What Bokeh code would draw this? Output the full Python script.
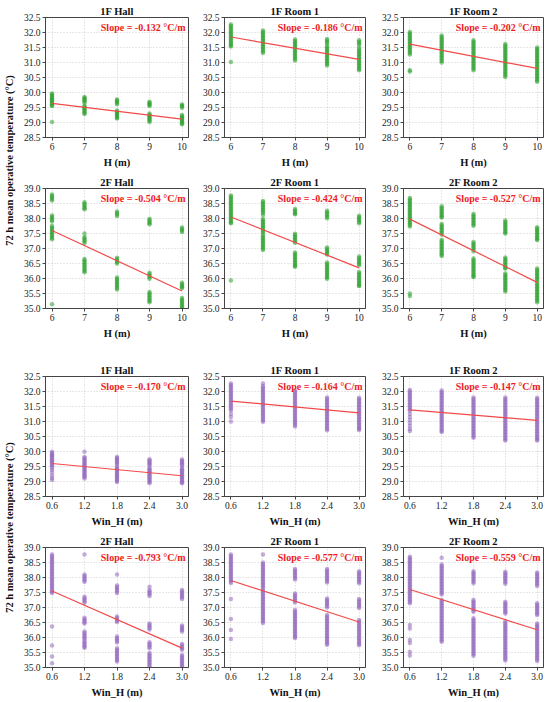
import math
from bokeh.plotting import figure
from bokeh.layouts import column, row
from bokeh.models import FixedTicker, PrintfTickFormatter, Label, Spacer, Range1d
from bokeh.embed import file_html
from bokeh.resources import INLINE

FONT = "Liberation Serif"

# ---------------- data ----------------
titles = ["1F Hall", "1F Room 1", "1F Room 2", "2F Hall", "2F Room 1", "2F Room 2"]
y_label = "72 h mean operative temperature (°C)"

h_values = [6, 7, 8, 9, 10]
h_tick_labels = ["6", "7", "8", "9", "10"]
win_values = [0.6, 1.2, 1.8, 2.4, 3.0]
win_tick_labels = ["0.6", "1.2", "1.8", "2.4", "3.0"]
y_ticks_1f = [28.5, 29.0, 29.5, 30.0, 30.5, 31.0, 31.5, 32.0, 32.5]
y_ticks_2f = [35.0, 35.5, 36.0, 36.5, 37.0, 37.5, 38.0, 38.5, 39.0]

# regression slopes (°C/m) and fitted value at the first x
h_slopes = [-0.132, -0.186, -0.202, -0.504, -0.424, -0.527]
h_fit_start = [29.64, 31.85, 31.61, 37.60, 38.05, 37.98]
win_slopes = [-0.170, -0.164, -0.147, -0.793, -0.577, -0.559]
win_fit_start = [29.60, 31.68, 31.39, 37.55, 37.90, 37.60]

# temperatures per x value (H = 6..10 m)
h_1f_hall = [
    [29.97, 29.93, 29.89, 29.85, 29.81, 29.77, 29.73, 29.69, 29.65, 29.61, 29.57, 29.55, 29.02],
    [29.85, 29.82, 29.78, 29.74, 29.70, 29.66, 29.56, 29.52, 29.48, 29.44, 29.40, 29.36, 29.32, 29.28],
    [29.77, 29.73, 29.69, 29.65, 29.61, 29.40, 29.36, 29.32, 29.28, 29.24, 29.20, 29.16, 29.13],
    [29.69, 29.66, 29.62, 29.58, 29.55, 29.30, 29.26, 29.22, 29.18, 29.14, 29.10, 29.06, 29.02],
    [29.60, 29.57, 29.53, 29.49, 29.25, 29.21, 29.17, 29.13, 29.09, 29.05, 29.01, 28.97, 28.94],
]
h_1f_room1 = [
    [32.27, 32.22, 32.17, 32.12, 32.07, 32.02, 31.97, 31.92, 31.87, 31.82, 31.77, 31.72, 31.67, 31.62, 31.57, 31.53, 31.02],
    [32.07, 32.02, 31.97, 31.92, 31.87, 31.82, 31.77, 31.72, 31.67, 31.62, 31.57, 31.52, 31.47, 31.42, 31.37, 31.32],
    [31.77, 31.72, 31.67, 31.62, 31.57, 31.52, 31.47, 31.42, 31.37, 31.32, 31.27, 31.22, 31.17, 31.12, 31.07],
    [31.78, 31.73, 31.68, 31.63, 31.55, 31.50, 31.45, 31.40, 31.35, 31.30, 31.25, 31.20, 31.15, 31.10, 31.05, 31.00, 30.95, 30.90],
    [31.74, 31.69, 31.64, 31.59, 31.50, 31.43, 31.38, 31.33, 31.28, 31.23, 31.18, 31.13, 31.08, 31.03, 30.98, 30.93, 30.88, 30.83, 30.78, 30.74],
]
h_1f_room2 = [
    [32.02, 31.97, 31.92, 31.87, 31.82, 31.77, 31.72, 31.67, 31.62, 31.57, 31.52, 31.47, 31.42, 31.37, 31.32, 31.27, 30.74, 30.70],
    [31.90, 31.85, 31.80, 31.75, 31.70, 31.65, 31.60, 31.55, 31.50, 31.45, 31.40, 31.35, 31.30, 31.25, 31.20, 31.15, 31.10, 31.05, 31.00],
    [31.74, 31.69, 31.64, 31.59, 31.54, 31.49, 31.44, 31.39, 31.34, 31.29, 31.24, 31.19, 31.14, 31.09, 31.04, 30.99, 30.94, 30.89, 30.84, 30.79, 30.74],
    [31.62, 31.57, 31.52, 31.47, 31.42, 31.37, 31.32, 31.27, 31.22, 31.17, 31.12, 31.07, 31.02, 30.97, 30.92, 30.87, 30.82, 30.77, 30.72, 30.67, 30.62, 30.57, 30.52],
    [31.50, 31.45, 31.40, 31.35, 31.30, 31.25, 31.20, 31.15, 31.10, 31.05, 31.00, 30.95, 30.90, 30.85, 30.80, 30.75, 30.70, 30.65, 30.60, 30.55, 30.50, 30.45, 30.40, 30.36],
]
h_2f_hall = [
    [38.80, 38.75, 38.70, 38.65, 38.60, 38.10, 38.05, 38.00, 37.95, 37.90, 37.75, 37.70, 37.65, 37.60, 37.55, 37.50, 37.45, 37.40, 37.35, 37.31, 35.14],
    [38.54, 38.49, 38.44, 38.39, 38.34, 38.31, 37.50, 37.38, 37.33, 37.28, 37.23, 37.18, 36.65, 36.60, 36.55, 36.50, 36.45, 36.40, 36.35, 36.30, 36.25, 36.21],
    [38.23, 38.18, 38.13, 38.08, 36.69, 36.64, 36.59, 36.54, 36.50, 36.03, 35.98, 35.93, 35.88, 35.83, 35.78, 35.73, 35.68, 35.63],
    [37.99, 37.94, 37.89, 37.84, 37.81, 36.19, 36.14, 36.09, 36.04, 35.99, 35.55, 35.50, 35.45, 35.40, 35.35, 35.30, 35.25, 35.21],
    [37.70, 37.65, 37.60, 37.55, 35.86, 35.81, 35.76, 35.71, 35.68, 35.35, 35.30, 35.25, 35.20, 35.15, 35.10, 35.05, 35.01],
]
h_2f_room1 = [
    [38.77, 38.72, 38.67, 38.62, 38.57, 38.52, 38.47, 38.42, 38.37, 38.32, 38.27, 38.22, 38.17, 38.12, 38.07, 38.02, 37.97, 37.92, 37.87, 37.84, 35.93],
    [38.58, 38.53, 38.48, 38.43, 38.38, 38.33, 38.28, 38.23, 38.18, 38.12, 37.98, 37.93, 37.88, 37.83, 37.78, 37.73, 37.68, 37.63, 37.58, 37.53, 37.46, 37.40, 37.35, 37.30, 37.25, 37.20, 37.15, 37.10, 37.05, 37.00, 36.95],
    [38.32, 38.27, 38.22, 38.17, 38.14, 37.49, 37.44, 37.39, 37.34, 37.29, 37.24, 37.19, 36.87, 36.82, 36.77, 36.72, 36.67, 36.62, 36.57, 36.52, 36.47, 36.42, 36.39],
    [38.26, 38.21, 38.16, 38.11, 38.06, 38.01, 37.03, 36.98, 36.93, 36.88, 36.83, 36.80, 36.53, 36.48, 36.43, 36.38, 36.33, 36.28, 36.23, 36.18, 36.13, 36.08, 36.03, 35.99],
    [38.09, 38.04, 37.99, 37.94, 37.89, 37.84, 36.73, 36.68, 36.63, 36.58, 36.53, 36.48, 36.44, 36.22, 36.17, 36.12, 36.07, 36.02, 35.97, 35.92, 35.87, 35.82, 35.77, 35.75],
]
h_2f_room2 = [
    [38.68, 38.63, 38.58, 38.53, 38.48, 38.43, 38.38, 38.33, 38.28, 38.23, 38.18, 38.13, 38.08, 38.03, 37.98, 37.93, 37.88, 37.83, 37.78, 37.73, 35.50, 35.42],
    [38.41, 38.36, 38.31, 38.26, 38.21, 38.16, 38.11, 38.06, 38.03, 37.82, 37.77, 37.72, 37.67, 37.62, 37.57, 37.52, 37.47, 37.29, 37.24, 37.19, 37.14, 37.09, 37.04, 36.99, 36.94, 36.89, 36.84, 36.79, 36.75],
    [38.15, 38.10, 38.05, 38.00, 37.95, 37.90, 37.85, 37.80, 37.76, 37.22, 37.17, 37.12, 37.07, 37.02, 36.97, 36.91, 36.67, 36.62, 36.57, 36.52, 36.47, 36.42, 36.37, 36.32, 36.27, 36.22, 36.17, 36.12, 36.07, 36.05],
    [37.93, 37.88, 37.83, 37.78, 37.73, 37.68, 37.63, 37.58, 37.53, 37.50, 36.70, 36.65, 36.60, 36.55, 36.50, 36.45, 36.40, 36.35, 36.33, 36.17, 36.12, 36.07, 36.02, 35.97, 35.92, 35.87, 35.82, 35.77, 35.72, 35.67, 35.62, 35.57],
    [37.71, 37.66, 37.61, 37.56, 37.51, 37.46, 37.41, 37.36, 37.31, 37.28, 36.33, 36.28, 36.23, 36.18, 36.13, 36.08, 36.03, 35.98, 35.94, 35.86, 35.81, 35.76, 35.71, 35.66, 35.61, 35.56, 35.51, 35.46, 35.41, 35.36, 35.31, 35.26, 35.21],
]

# temperatures per x value (Win_H = 0.6..3.0 m)
win_1f_hall = [
    [29.99, 29.95, 29.91, 29.87, 29.83, 29.79, 29.75, 29.71, 29.67, 29.63, 29.59, 29.55, 29.51, 29.45, 29.38, 29.30, 29.20, 29.12, 29.05],
    [29.99, 29.82, 29.78, 29.74, 29.70, 29.66, 29.62, 29.58, 29.54, 29.50, 29.46, 29.42, 29.38, 29.34, 29.30, 29.26, 29.22, 29.18, 29.14, 29.10],
    [29.82, 29.78, 29.74, 29.70, 29.66, 29.62, 29.58, 29.50, 29.46, 29.42, 29.38, 29.34, 29.30, 29.26, 29.22, 29.18, 29.14, 29.10, 29.06, 29.02, 28.98],
    [29.74, 29.70, 29.66, 29.62, 29.58, 29.54, 29.46, 29.42, 29.38, 29.34, 29.30, 29.26, 29.22, 29.18, 29.14, 29.10, 29.06, 29.02, 28.98, 28.94],
    [29.73, 29.69, 29.65, 29.61, 29.57, 29.53, 29.45, 29.41, 29.37, 29.33, 29.29, 29.25, 29.21, 29.17, 29.13, 29.09, 29.05, 29.01, 28.97, 28.94],
]
win_1f_room1 = [
    [32.27, 32.22, 32.17, 32.12, 32.07, 32.02, 31.97, 31.92, 31.87, 31.82, 31.77, 31.72, 31.67, 31.62, 31.57, 31.52, 31.47, 31.42, 31.37, 31.25, 31.15, 31.00],
    [32.27, 32.18, 32.13, 32.08, 32.03, 31.98, 31.93, 31.88, 31.83, 31.78, 31.73, 31.68, 31.63, 31.58, 31.53, 31.48, 31.43, 31.38, 31.33, 31.28, 31.23, 31.18, 31.13, 31.08, 31.03, 30.99],
    [32.03, 31.98, 31.93, 31.88, 31.83, 31.78, 31.73, 31.68, 31.63, 31.58, 31.53, 31.48, 31.43, 31.38, 31.33, 31.28, 31.23, 31.18, 31.13, 31.08, 31.03, 30.98, 30.93, 30.88, 30.83],
    [31.80, 31.75, 31.70, 31.65, 31.60, 31.55, 31.50, 31.45, 31.40, 31.35, 31.30, 31.25, 31.20, 31.15, 31.10, 31.05, 31.00, 30.95, 30.90, 30.85, 30.80, 30.75, 30.71],
    [31.79, 31.74, 31.69, 31.64, 31.59, 31.54, 31.49, 31.44, 31.39, 31.34, 31.29, 31.24, 31.19, 31.14, 31.09, 31.04, 30.99, 30.94, 30.89, 30.84, 30.79, 30.75, 30.72],
]
win_1f_room2 = [
    [32.05, 32.00, 31.95, 31.90, 31.85, 31.80, 31.75, 31.70, 31.65, 31.60, 31.55, 31.50, 31.45, 31.40, 31.36, 31.25, 31.15, 31.05, 30.95, 30.85, 30.75, 30.68],
    [32.03, 31.98, 31.93, 31.88, 31.83, 31.78, 31.73, 31.68, 31.63, 31.58, 31.53, 31.48, 31.43, 31.38, 31.33, 31.28, 31.23, 31.18, 31.13, 31.08, 31.03, 30.98, 30.93, 30.88, 30.83, 30.78, 30.73, 30.68, 30.65],
    [31.80, 31.75, 31.70, 31.65, 31.60, 31.55, 31.50, 31.45, 31.40, 31.35, 31.30, 31.25, 31.20, 31.15, 31.10, 31.05, 31.00, 30.95, 30.90, 30.85, 30.80, 30.75, 30.70, 30.65, 30.60, 30.55, 30.50, 30.46],
    [31.80, 31.75, 31.70, 31.65, 31.60, 31.55, 31.50, 31.45, 31.40, 31.35, 31.30, 31.25, 31.20, 31.15, 31.10, 31.05, 31.00, 30.95, 30.90, 30.85, 30.80, 30.75, 30.70, 30.65, 30.60, 30.55, 30.50, 30.45, 30.40, 30.37],
    [31.79, 31.74, 31.69, 31.64, 31.59, 31.54, 31.49, 31.44, 31.39, 31.34, 31.29, 31.24, 31.19, 31.14, 31.09, 31.04, 30.99, 30.94, 30.89, 30.84, 30.79, 30.74, 30.69, 30.64, 30.59, 30.54, 30.49, 30.44, 30.40, 30.37],
]
win_2f_hall = [
    [38.77, 38.72, 38.67, 38.62, 38.57, 38.52, 38.47, 38.42, 38.37, 38.32, 38.27, 38.22, 38.17, 38.12, 38.07, 38.02, 37.97, 37.92, 37.87, 37.82, 37.77, 37.72, 37.67, 37.62, 37.57, 37.52, 37.48, 36.37, 35.73, 35.37, 35.14],
    [38.77, 38.10, 38.05, 38.00, 37.95, 37.90, 37.86, 37.36, 37.31, 37.26, 37.21, 37.16, 36.66, 36.61, 36.56, 36.51, 36.47, 36.20, 36.15, 36.10, 36.05, 36.00, 35.97, 35.89, 35.84, 35.79, 35.74, 35.69, 35.66],
    [38.10, 37.73, 37.68, 37.63, 37.58, 37.53, 37.48, 36.70, 36.65, 36.60, 36.55, 36.52, 36.03, 35.98, 35.93, 35.88, 35.83, 35.64, 35.59, 35.54, 35.49, 35.44, 35.39, 35.34, 35.29, 35.24, 35.20],
    [37.69, 37.58, 37.53, 37.48, 37.43, 37.38, 36.47, 36.42, 36.37, 36.32, 36.27, 35.84, 35.79, 35.74, 35.69, 35.64, 35.48, 35.43, 35.38, 35.33, 35.28, 35.23, 35.18, 35.13, 35.08, 35.03],
    [37.58, 37.53, 37.48, 37.43, 37.38, 37.33, 37.28, 36.40, 36.35, 36.30, 36.25, 36.20, 35.78, 35.73, 35.68, 35.63, 35.59, 35.42, 35.37, 35.32, 35.27, 35.22, 35.17, 35.12, 35.07, 35.02],
]
win_2f_room1 = [
    [38.77, 38.72, 38.67, 38.62, 38.57, 38.52, 38.47, 38.42, 38.37, 38.32, 38.27, 38.22, 38.17, 38.12, 38.07, 38.02, 37.97, 37.92, 37.87, 37.82, 37.28, 36.62, 36.25, 35.95],
    [38.77, 38.50, 38.45, 38.40, 38.35, 38.30, 38.25, 38.20, 38.15, 38.10, 38.05, 38.00, 37.95, 37.90, 37.85, 37.80, 37.75, 37.70, 37.65, 37.58, 37.53, 37.48, 37.43, 37.38, 37.33, 37.28, 37.23, 37.18, 37.13, 37.08, 37.03, 36.98, 36.93, 36.88, 36.83, 36.78, 36.73, 36.68, 36.63, 36.58, 36.53, 36.48],
    [38.28, 38.23, 38.18, 38.13, 38.08, 38.03, 37.98, 37.93, 37.47, 37.42, 37.37, 37.32, 37.27, 37.22, 37.17, 36.92, 36.87, 36.82, 36.77, 36.72, 36.67, 36.62, 36.57, 36.52, 36.47, 36.42, 36.37, 36.32, 36.27, 36.22, 36.17, 36.12, 36.07, 36.02, 35.98],
    [38.28, 38.23, 38.18, 38.13, 38.08, 38.03, 37.98, 37.93, 37.88, 37.83, 37.30, 37.25, 37.20, 37.15, 37.10, 37.05, 37.00, 36.75, 36.70, 36.65, 36.60, 36.55, 36.50, 36.45, 36.40, 36.35, 36.30, 36.25, 36.20, 36.15, 36.10, 36.05, 36.00, 35.95, 35.90, 35.85, 35.80, 35.76],
    [38.21, 38.16, 38.11, 38.06, 38.01, 37.96, 37.91, 37.86, 37.81, 37.28, 37.23, 37.18, 37.13, 37.08, 37.03, 36.98, 36.58, 36.53, 36.48, 36.43, 36.38, 36.33, 36.28, 36.23, 36.18, 36.13, 36.08, 36.03, 35.98, 35.93, 35.88, 35.83, 35.78, 35.74],
]
win_2f_room2 = [
    [38.69, 38.64, 38.59, 38.54, 38.49, 38.44, 38.39, 38.34, 38.29, 38.24, 38.19, 38.14, 38.09, 38.04, 37.99, 37.94, 37.89, 37.84, 37.79, 37.74, 37.69, 37.64, 37.59, 37.54, 37.49, 37.44, 37.39, 37.34, 37.29, 37.24, 37.19, 37.14, 36.42, 36.30, 35.92, 35.82, 35.52, 35.40],
    [38.66, 38.43, 38.38, 38.33, 38.28, 38.23, 38.18, 38.13, 38.08, 38.03, 37.98, 37.93, 37.88, 37.83, 37.78, 37.73, 37.68, 37.63, 37.58, 37.53, 37.48, 37.43, 37.25, 37.20, 37.15, 37.10, 37.05, 37.00, 36.95, 36.90, 36.85, 36.80, 36.75, 36.70, 36.65, 36.60, 36.55, 36.50, 36.45, 36.40, 36.35, 36.30, 36.25, 36.20, 36.15, 36.10, 36.05, 36.00, 35.95, 35.90, 35.86],
    [38.21, 38.16, 38.11, 38.06, 38.01, 37.96, 37.91, 37.86, 37.81, 37.25, 37.20, 37.15, 37.10, 37.05, 37.00, 36.95, 36.90, 36.86, 36.64, 36.59, 36.54, 36.49, 36.44, 36.39, 36.34, 36.29, 36.24, 36.19, 36.14, 36.09, 36.04, 35.99, 35.94, 35.89, 35.84, 35.79, 35.74, 35.69, 35.64, 35.59, 35.54, 35.49, 35.44, 35.39],
    [38.19, 38.14, 38.09, 38.04, 37.99, 37.94, 37.89, 37.84, 37.79, 37.19, 37.14, 37.09, 37.04, 36.99, 36.94, 36.89, 36.84, 36.80, 36.53, 36.48, 36.43, 36.38, 36.33, 36.28, 36.23, 36.18, 36.13, 36.08, 36.03, 35.98, 35.93, 35.88, 35.83, 35.78, 35.73, 35.68, 35.63, 35.58, 35.53, 35.48, 35.43, 35.38, 35.33, 35.28, 35.23],
    [38.17, 38.12, 38.07, 38.02, 37.97, 37.92, 37.87, 37.82, 37.77, 37.72, 37.14, 37.09, 37.04, 36.99, 36.94, 36.89, 36.84, 36.79, 36.75, 36.47, 36.42, 36.37, 36.32, 36.27, 36.22, 36.17, 36.12, 36.07, 36.02, 35.97, 35.92, 35.87, 35.82, 35.77, 35.72, 35.67, 35.62, 35.57, 35.52, 35.47, 35.42, 35.37, 35.32, 35.27, 35.22],
]

h_data = [h_1f_hall, h_1f_room1, h_1f_room2, h_2f_hall, h_2f_room1, h_2f_room2]
win_data = [win_1f_hall, win_1f_room1, win_1f_room2, win_2f_hall, win_2f_room1, win_2f_room2]

GREEN = "#2ca02c"
PURPLE = "#9467bd"
RED_LINE = "#f24a4a"
RED_TEXT = "#ee1c1c"

FRAME_H = 120
TOP_B = 17
BOT_B = 34
# per column: (left border, frame width, right border)
COLS = [(28, 143, 11), (24, 142, 13), (24, 141, 5)]
LABEL_W = 17


def make_panel(idx, xs, xtl, values, slope, start, xlabel, color, xpad):
    mbl, fw, mbr = COLS[idx % 3]
    yt = y_ticks_1f if idx < 3 else y_ticks_2f
    xr = (xs[0] - xpad, xs[-1] + xpad)
    yr = (yt[0], yt[-1])
    p = figure(width=mbl + fw + mbr, height=TOP_B + FRAME_H + BOT_B,
               x_range=Range1d(*xr), y_range=Range1d(*yr),
               output_backend="svg", toolbar_location=None,
               min_border_left=mbl, min_border_right=mbr,
               min_border_top=TOP_B, min_border_bottom=BOT_B,
               title=titles[idx])
    p.title.text_font = FONT
    p.title.text_font_size = "10.5px"
    p.title.text_font_style = "bold"
    p.title.align = "center"
    p.title.standoff = 2
    p.title.text_color = "#111111"

    p.xaxis.ticker = FixedTicker(ticks=xs)
    p.xaxis.major_label_overrides = {x: t for x, t in zip(xs, xtl)}
    p.yaxis.ticker = FixedTicker(ticks=yt)
    p.yaxis.formatter = PrintfTickFormatter(format="%.1f")
    p.xaxis.axis_label = xlabel
    for ax in (p.xaxis, p.yaxis):
        ax.axis_line_color = "#444444"
        ax.major_tick_line_color = "#444444"
        ax.major_tick_in = 0
        ax.major_tick_out = 3
        ax.minor_tick_line_color = None
        ax.major_label_text_font = FONT
        ax.major_label_text_font_size = "9.5px"
        ax.major_label_text_color = "#222222"
        ax.major_label_standoff = 2
    p.xaxis.axis_label_text_font = FONT
    p.xaxis.axis_label_text_font_size = "10.5px"
    p.xaxis.axis_label_text_font_style = "bold"
    p.xaxis.axis_label_text_color = "#111111"
    p.xaxis.axis_label_standoff = 4

    p.grid.grid_line_color = "#cfcfcf"
    p.grid.grid_line_dash = "1 2"
    p.grid.grid_line_width = 1
    p.outline_line_color = "#444444"
    p.outline_line_width = 1
    p.outline_line_alpha = 1.0

    px, py = [], []
    for x, vals in zip(xs, values):
        for v in vals:
            px.append(x)
            py.append(v)
    p.scatter(px, py, size=4.5, fill_color=color, fill_alpha=0.55, line_color=None)

    x0, x1 = xs[0], xs[-1]
    p.line([x0, x1], [start, start + slope * (x1 - x0)], line_color=RED_LINE, line_width=1.2)

    p.add_layout(Label(x=xr[1], y=yr[1], x_offset=-3, y_offset=-4,
                       text="Slope = %.3f °C/m" % slope,
                       text_align="right", text_baseline="top",
                       text_color=RED_TEXT, text_font=FONT,
                       text_font_style="bold", text_font_size="10px"))
    return p


def ylabel_fig(h, center_from_top):
    p = figure(width=LABEL_W, height=h, x_range=Range1d(-1, 1), y_range=Range1d(0, h),
               output_backend="svg", toolbar_location=None, min_border=0,
               x_axis_type=None, y_axis_type=None)
    p.outline_line_color = None
    p.add_layout(Label(x=0, y=h - center_from_top, text=y_label, angle=math.pi / 2,
                       text_align="center", text_baseline="middle",
                       text_font=FONT, text_font_style="bold",
                       text_font_size="10.5px", text_color="#111111"))
    return p


h_panels = [make_panel(i, h_values, h_tick_labels, h_data[i], h_slopes[i], h_fit_start[i],
                       "H (m)", GREEN, 0.2) for i in range(6)]
w_panels = [make_panel(i, win_values, win_tick_labels, win_data[i], win_slopes[i], win_fit_start[i],
                       "Win_H (m)", PURPLE, 0.12) for i in range(6)]

GROUP_GAP = 17
group_h = 2 * (TOP_B + FRAME_H + BOT_B)

left = column(ylabel_fig(group_h, 160), Spacer(width=LABEL_W, height=GROUP_GAP), ylabel_fig(group_h, 168))
right = column(row(*h_panels[:3]), row(*h_panels[3:]),
               Spacer(height=GROUP_GAP),
               row(*w_panels[:3]), row(*w_panels[3:]))
layout = row(left, right)

open("out.html", "w").write(file_html(layout, INLINE))
